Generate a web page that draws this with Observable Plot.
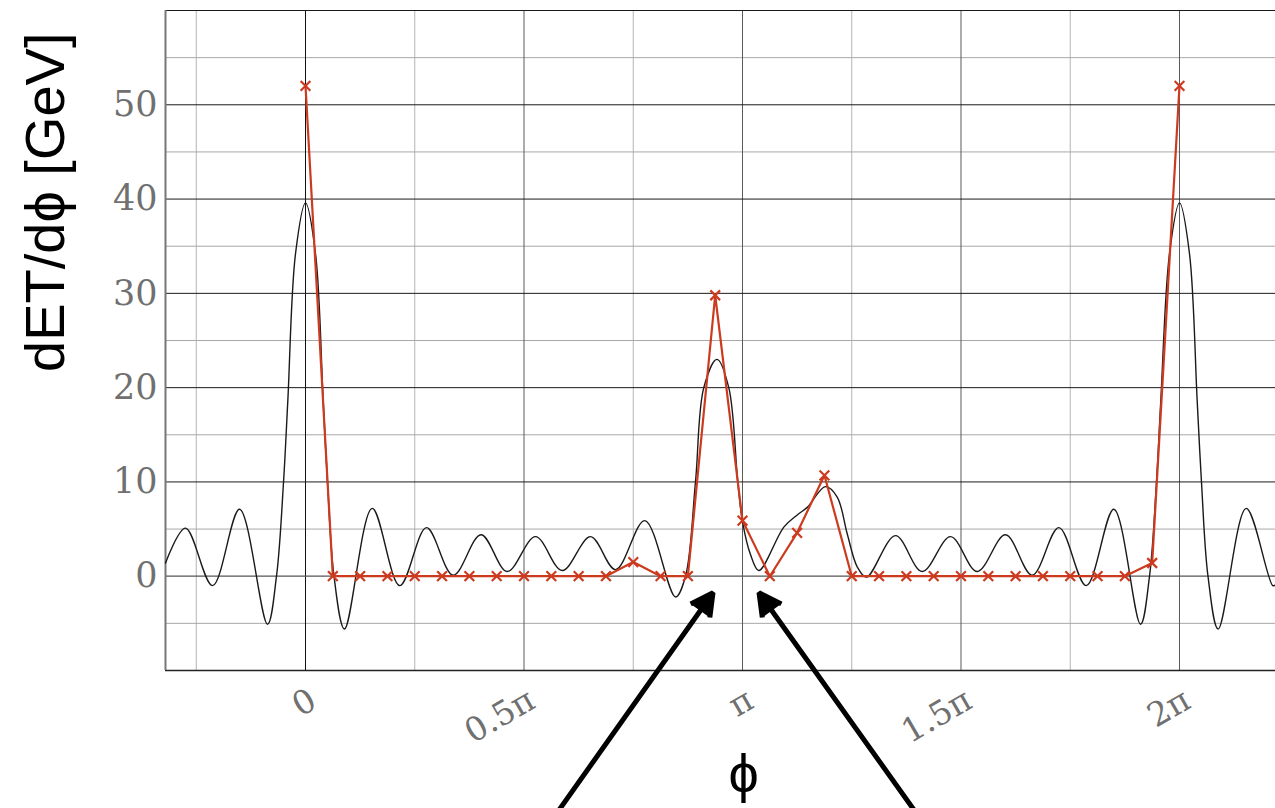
<!DOCTYPE html>
<html>
<head>
<meta charset="utf-8">
<script src="https://cdn.jsdelivr.net/npm/d3@7"></script>
<script src="https://cdn.jsdelivr.net/npm/@observablehq/plot@0.6"></script>
<style>
  html, body { margin: 0; padding: 0; background: #fff; overflow: hidden; }
</style>
</head>
<body>
<div id="chart"></div>
<script>
// Azimuthal energy flow dET/dϕ: binned deposits (red) and the smooth
// band-limited reconstruction (black). ϕ is expressed in units of π.

// Tick positions and labels
const phiTicks = [0, 0.5, 1, 1.5, 2];
const phiTickLabels = ["0", "0.5π", "π", "1.5π", "2π"];
const yTicks = [0, 10, 20, 30, 40, 50];

// Grid lines
const phiMinorGrid = [-0.25, 0.25, 0.75, 1.25, 1.75];
const phiMajorGrid = [0.5, 1, 1.5, 2];
const yMinorGrid = [-5, 5, 15, 25, 35, 45, 55];
const yMajorGrid = [10, 20, 30, 40, 50, 60];

// Binned deposits: bin centres (×π) and dET/dϕ [GeV]
const binPhi = [0, 0.0625, 0.125, 0.1875, 0.25, 0.3125, 0.375, 0.4375, 0.5, 0.5625,
  0.625, 0.6875, 0.75, 0.8125, 0.875, 0.9375, 1, 1.0625, 1.125, 1.1875, 1.25, 1.3125,
  1.375, 1.4375, 1.5, 1.5625, 1.625, 1.6875, 1.75, 1.8125, 1.875, 1.9375, 2];
const binValue = [52, 0, 0, 0, 0, 0, 0, 0, 0, 0,
  0, 0, 1.5, 0, 0, 29.8, 5.9, 0, 4.6, 10.7, 0, 0,
  0, 0, 0, 0, 0, 0, 0, 0, 0, 1.4, 52];

// Smooth reconstruction: ϕ (×π) and dET/dϕ [GeV]
const curvePhi = [-0.3204, -0.2746, -0.2128, -0.1510, -0.0870, -0.0664, -0.0503, -0.0405, -0.0229,
  0, 0.0229, 0.0405, 0.0503, 0.0652, 0.0892, 0.1526, 0.2158, 0.2769, 0.3380, 0.4016,
  0.4616, 0.5263, 0.5874, 0.6522, 0.7094, 0.7764, 0.8467, 0.8696, 0.8924, 0.9114,
  0.9416, 0.9686, 0.9892, 1.0, 1.0183, 1.0373, 1.0945, 1.1252, 1.1481, 1.1899,
  1.2167, 1.2396, 1.2625, 1.2838, 1.3501, 1.4112, 1.4760, 1.5371, 1.6018, 1.6629,
  1.7238, 1.7865, 1.8497, 1.9108, 1.9314, 1.9474, 1.9572, 1.9771, 2.0, 2.0229,
  2.0405, 2.0503, 2.0652, 2.0885, 2.1526, 2.2135, 2.2197];
const curveValue = [1.4, 5.1, -1.0, 7.1, -5.1, 0, 10, 18.6, 34.2,
  39.6, 34.2, 18.6, 10, 0, -5.6, 7.2, -1.0, 5.15, 0.1, 4.4,
  0.5, 4.2, 0.6, 4.2, 0.7, 5.9, -2.2, 0, 10, 20,
  23.0, 20, 10, 5.8, 2.3, 0.6, 5.2, 6.5, 7.3, 9.5,
  8.4, 4.5, 1.0, -0.1, 4.3, 0.5, 4.2, 0.5, 4.4, 0.1,
  5.15, -1.0, 7.1, -5.1, 0, 10, 18.6, 34.2, 39.6, 34.2,
  18.6, 10, 0, -5.6, 7.2, -1.0, -0.9];

// Annotation arrows pointing at the bins around ϕ = π
const arrowTailPhi = [0.548, 1.425];
const arrowTailValue = [-26.9, -26.9];
const arrowTipPhi = [0.9325, 1.0378];
const arrowTipValue = [-1.75, -1.75];

const bins = binPhi.map((p, i) => ({phi: p, v: binValue[i]}));
const curve = curvePhi.map((p, i) => ({phi: p, v: curveValue[i]}));
const arrows = arrowTailPhi.map((p, i) => ({
  x1: p, y1: arrowTailValue[i], x2: arrowTipPhi[i], y2: arrowTipValue[i]
}));

const red = "#cc3a1f";
const tickGray = "#707070";
const serif = "DejaVu Serif";

const chart = Plot.plot({
  width: 1275,
  height: 808,
  marginLeft: 165,
  marginRight: 0,
  marginTop: 10,
  marginBottom: 138,
  style: {background: "white", overflow: "hidden"},
  x: {domain: [-0.3204, 2.2197], axis: null},
  y: {domain: [-10, 60], axis: null},
  marks: [
    // grid
    Plot.ruleX(phiMinorGrid, {stroke: "#b4b4b4", strokeWidth: 1}),
    Plot.ruleY(yMinorGrid, {stroke: "#a8a8a8", strokeWidth: 1}),
    Plot.ruleX(phiMajorGrid, {stroke: "#5a5a5a", strokeWidth: 1}),
    Plot.ruleX([0], {stroke: "#111", strokeWidth: 1}),
    Plot.ruleY(yMajorGrid, {stroke: "#1a1a1a", strokeWidth: 1}),
    Plot.ruleY([0], {stroke: "#555", strokeWidth: 1.2}),
    // frame
    Plot.ruleY([-10], {stroke: "#222", strokeWidth: 1.5}),
    Plot.ruleX([-0.3204], {stroke: "#777", strokeWidth: 2}),
    // smooth reconstruction
    Plot.line(curve, {x: "phi", y: "v", curve: "catmull-rom", stroke: "#1a1a1a", strokeWidth: 1.4}),
    // binned deposits
    Plot.line(bins, {x: "phi", y: "v", stroke: red, strokeWidth: 2.2}),
    Plot.dot(bins, {x: "phi", y: "v", symbol: "times", r: 4.5, stroke: red, strokeWidth: 2.2}),
    // annotation arrows
    Plot.arrow(arrows, {
      x1: "x1", y1: "y1", x2: "x2", y2: "y2",
      stroke: "black", fill: "black", strokeWidth: 5,
      headLength: 7.5, headAngle: 56, strokeLinejoin: "miter", strokeLinecap: "butt"
    }),
    // tick labels
    Plot.text(yTicks, {
      y: d => d, frameAnchor: "left", text: d => String(d),
      textAnchor: "end", dx: -8, fontSize: 35, fontFamily: serif, fill: tickGray
    }),
    Plot.text(phiTicks, {
      x: d => d, frameAnchor: "bottom", text: (d, i) => phiTickLabels[i],
      rotate: -30, textAnchor: "end", lineAnchor: "middle",
      dx: 8, dy: 27, fontSize: 33, fontFamily: serif, fill: tickGray
    }),
    // axis titles
    Plot.text(["dET/dϕ [GeV]"], {
      frameAnchor: "top-left", rotate: -90, textAnchor: "end", lineAnchor: "middle",
      dx: -119, dy: 22, fontSize: 56, fontFamily: "Liberation Sans", fill: "black"
    }),
    Plot.text(["ϕ"], {
      frameAnchor: "bottom", lineAnchor: "middle",
      dx: 23, dy: 104, fontSize: 54, fontFamily: "Liberation Sans", fill: "black"
    })
  ]
});

document.getElementById("chart").appendChild(chart);
</script>
</body>
</html>
